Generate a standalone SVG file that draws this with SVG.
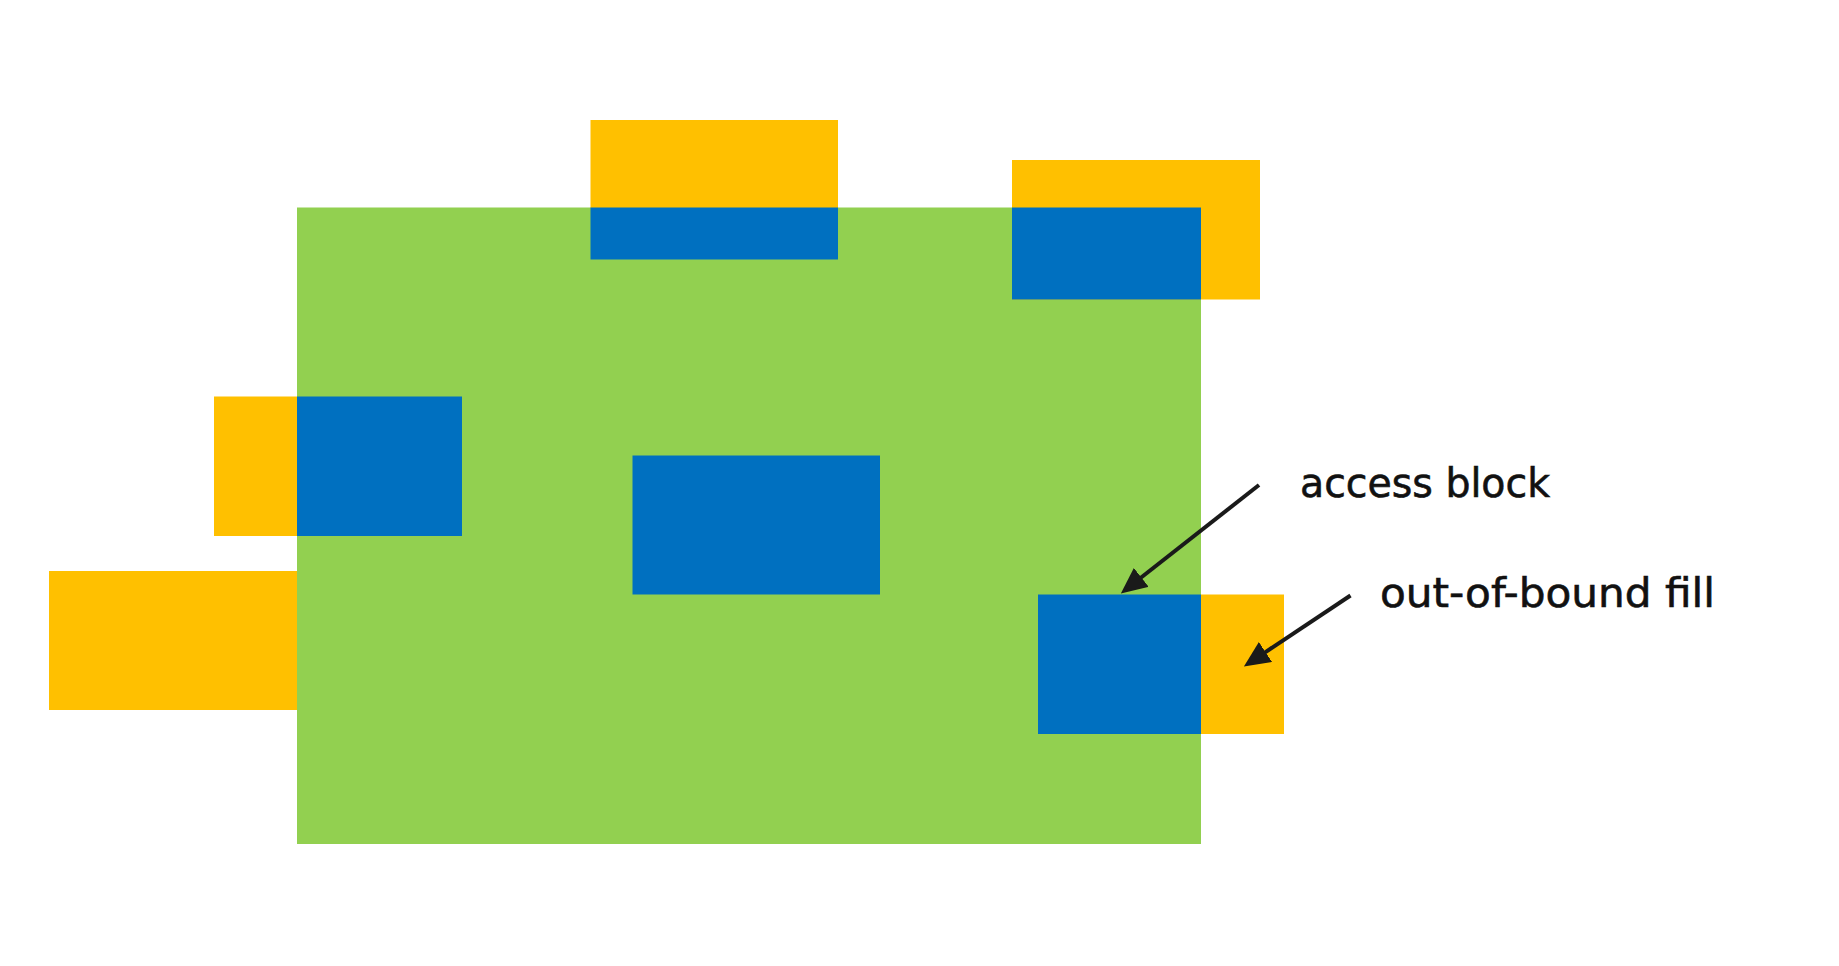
<svg xmlns="http://www.w3.org/2000/svg" width="1839" height="966" viewBox="0 0 1839 966">
<style>
.g{fill:#92D050}
.y{fill:#FFC000}
.b{fill:#0070C0}
.lbl{font-family:"DejaVu Sans","Liberation Sans",sans-serif;font-size:41px;fill:#111;stroke:#111;stroke-width:0.6}
.arr{stroke:#1a1a1a;stroke-width:4;fill:none;marker-end:url(#ah)}
</style>
<defs>
<marker id="ah" viewBox="0 0 26 24" refX="1" refY="12" markerWidth="26" markerHeight="24" orient="auto" markerUnits="userSpaceOnUse">
<path d="M0,0 L26,12 L0,24 Z" fill="#1a1a1a"/>
</marker>
</defs>
<rect width="1839" height="966" fill="#fff"/>
<g id="region">
<rect class="g" x="297" y="207.5" width="904" height="636.5"/>
</g>
<g id="block-top">
<rect class="y" x="590.5" y="120" width="247.5" height="88"/>
<rect class="b" x="590.5" y="207.5" width="247.5" height="52"/>
</g>
<g id="block-topright">
<rect class="y" x="1012" y="160" width="248" height="139.5"/>
<rect class="b" x="1012" y="207.5" width="189" height="92"/>
</g>
<g id="block-left">
<rect class="y" x="214" y="396.5" width="83" height="139.5"/>
<rect class="b" x="297" y="396.5" width="165" height="139.5"/>
</g>
<g id="block-bottomleft">
<rect class="y" x="49" y="571" width="248" height="139"/>
</g>
<g id="block-center">
<rect class="b" x="632.5" y="455.5" width="247.5" height="139"/>
</g>
<g id="block-right">
<rect class="b" x="1038" y="594.5" width="163" height="139.5"/>
<rect class="y" x="1201" y="594.5" width="83" height="139.5"/>
</g>
<g id="connectors">
<line class="arr" x1="1259" y1="485" x2="1140.5" y2="578"/>
<line class="arr" x1="1350.5" y1="595.5" x2="1264.7" y2="652.6"/>
</g>
<g id="labels">
<text class="lbl" x="1300" y="497" textLength="250" lengthAdjust="spacingAndGlyphs">access block</text>
<text class="lbl" x="1380" y="607" textLength="335" lengthAdjust="spacingAndGlyphs">out-of-bound fill</text>
</g>
</svg>
